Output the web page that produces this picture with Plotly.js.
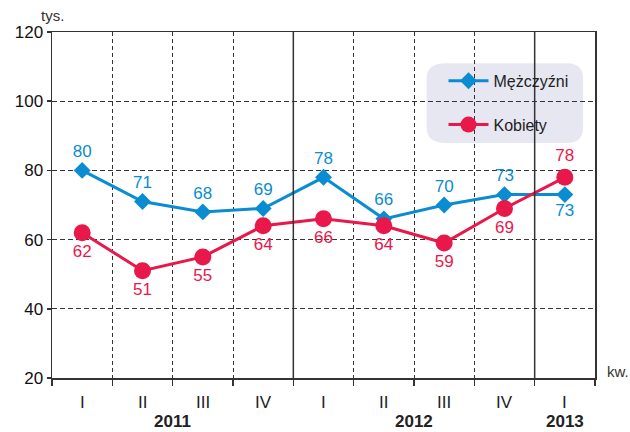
<!DOCTYPE html>
<html>
<head>
<meta charset="utf-8">
<script src="https://cdn.plot.ly/plotly-3.0.1.min.js"></script>
<style>html,body{margin:0;padding:0;background:#fff;}#chart{width:630px;height:432px;}</style>
</head>
<body>
<div id="chart"></div>
<script>
const quarters = ["I", "II", "III", "IV", "I", "II", "III", "IV", "I"];
const years = ["2011", "2012", "2013"];
const yearSpans = [[0, 3], [4, 7], [8, 8]];
const men = [80, 71, 68, 69, 78, 66, 70, 73, 73];
const women = [62, 51, 55, 64, 66, 64, 59, 69, 78];
const menPos = ["top center","top center","top center","top center","top center","top center","top center","top center","bottom center"];
const womenPos = ["bottom center","bottom center","bottom center","bottom center","bottom center","bottom center","bottom center","bottom center","top center"];

const BLUE = "#0a8cd2";
const RED = "#e8184a";
const FONT = "Liberation Sans, Arial, sans-serif";
const xIdx = quarters.map((_, i) => i);

const traces = [
  {
    x: xIdx, y: men, name: "Mężczyźni", type: "scatter", mode: "lines+markers+text",
    line: {color: BLUE, width: 3},
    marker: {symbol: "diamond", size: 13, color: BLUE},
    text: men.map(String), textposition: menPos,
    textfont: {family: FONT, size: 17, color: BLUE},
    legendgroup: "a", cliponaxis: false
  },
  {
    x: xIdx, y: women, name: "Kobiety", type: "scatter", mode: "lines+markers+text",
    line: {color: RED, width: 3},
    marker: {symbol: "circle", size: 17, color: RED},
    text: women.map(String), textposition: womenPos,
    textfont: {family: FONT, size: 17, color: RED},
    legendgroup: "b", cliponaxis: false
  }
];

const boundaries = [];
for (let i = 0; i <= quarters.length; i++) boundaries.push(i - 0.5);

const shapes = [
  {type: "path", xref: "paper", yref: "paper", layer: "below",
   path: "M 0.725,0.910 L 0.948,0.910 Q 0.978,0.910 0.978,0.866 L 0.978,0.723 Q 0.978,0.679 0.948,0.679 L 0.725,0.679 Q 0.69,0.679 0.69,0.723 L 0.69,0.866 Q 0.69,0.910 0.725,0.910 Z",
   fillcolor: "#e7e7f2", line: {width: 0}}
];
yearSpans.slice(0, -1).forEach(s => {
  shapes.push({type: "line", xref: "x", yref: "paper", x0: s[1] + 0.5, x1: s[1] + 0.5, y0: 0, y1: 1,
    line: {color: "#333", width: 1.5}, layer: "above"});
});

const annotations = [];
quarters.forEach((q, i) => {
  annotations.push({x: i, y: 0, xref: "x", yref: "paper", text: q, showarrow: false,
    yanchor: "top", yshift: -13, font: {family: FONT, size: 17, color: "#222"}});
});
years.forEach((yr, k) => {
  const s = yearSpans[k];
  annotations.push({x: (s[0] + s[1]) / 2, y: 0, xref: "x", yref: "paper", text: "<b>" + yr + "</b>", showarrow: false,
    yanchor: "top", yshift: -33, borderpad: 0, font: {family: FONT, size: 17, color: "#222"}});
});
annotations.push({x: 0, y: 1, xref: "paper", yref: "paper", text: "tys.", showarrow: false,
  xanchor: "right", yanchor: "bottom", xshift: 14, yshift: 6, font: {family: FONT, size: 15, color: "#333"}});
annotations.push({x: 1, y: 0, xref: "paper", yref: "paper", text: "kw.", showarrow: false,
  xanchor: "left", yanchor: "bottom", xshift: 10, yshift: -4, font: {family: FONT, size: 15, color: "#333"}});

const layout = {
  width: 630, height: 432,
  margin: {l: 52, r: 35, t: 32, b: 54},
  paper_bgcolor: "#fff", plot_bgcolor: "#fff",
  showlegend: true,
  legend: {x: 0.721, y: 0.908, xanchor: "left", yanchor: "top", bgcolor: "rgba(0,0,0,0)",
    font: {family: FONT, size: 16, color: "#222"},
    traceorder: "grouped", tracegroupgap: 20, itemwidth: 40},
  xaxis: {range: [-0.5, 8.5], tickvals: boundaries, ticktext: boundaries.map(() => ""),
    showgrid: true, gridcolor: "#333", griddash: "4px,3px", gridwidth: 1,
    ticks: "outside", ticklen: 6, tickcolor: "#333", tickwidth: 1.5,
    showline: true, linecolor: "#333", linewidth: 1.5, mirror: true, zeroline: false, fixedrange: true},
  yaxis: {range: [20, 120], tickvals: [20, 40, 60, 80, 100, 120],
    showgrid: true, gridcolor: "#333", griddash: "5px,3px", gridwidth: 1,
    ticks: "outside", ticklen: 4, tickcolor: "#333", tickwidth: 1.5,
    tickfont: {family: FONT, size: 17, color: "#111"},
    showline: true, linecolor: "#333", linewidth: 1.5, mirror: true, zeroline: false, fixedrange: true},
  shapes: shapes,
  annotations: annotations
};

Plotly.newPlot("chart", traces, layout, {displayModeBar: false, staticPlot: true});
</script>
</body>
</html>
